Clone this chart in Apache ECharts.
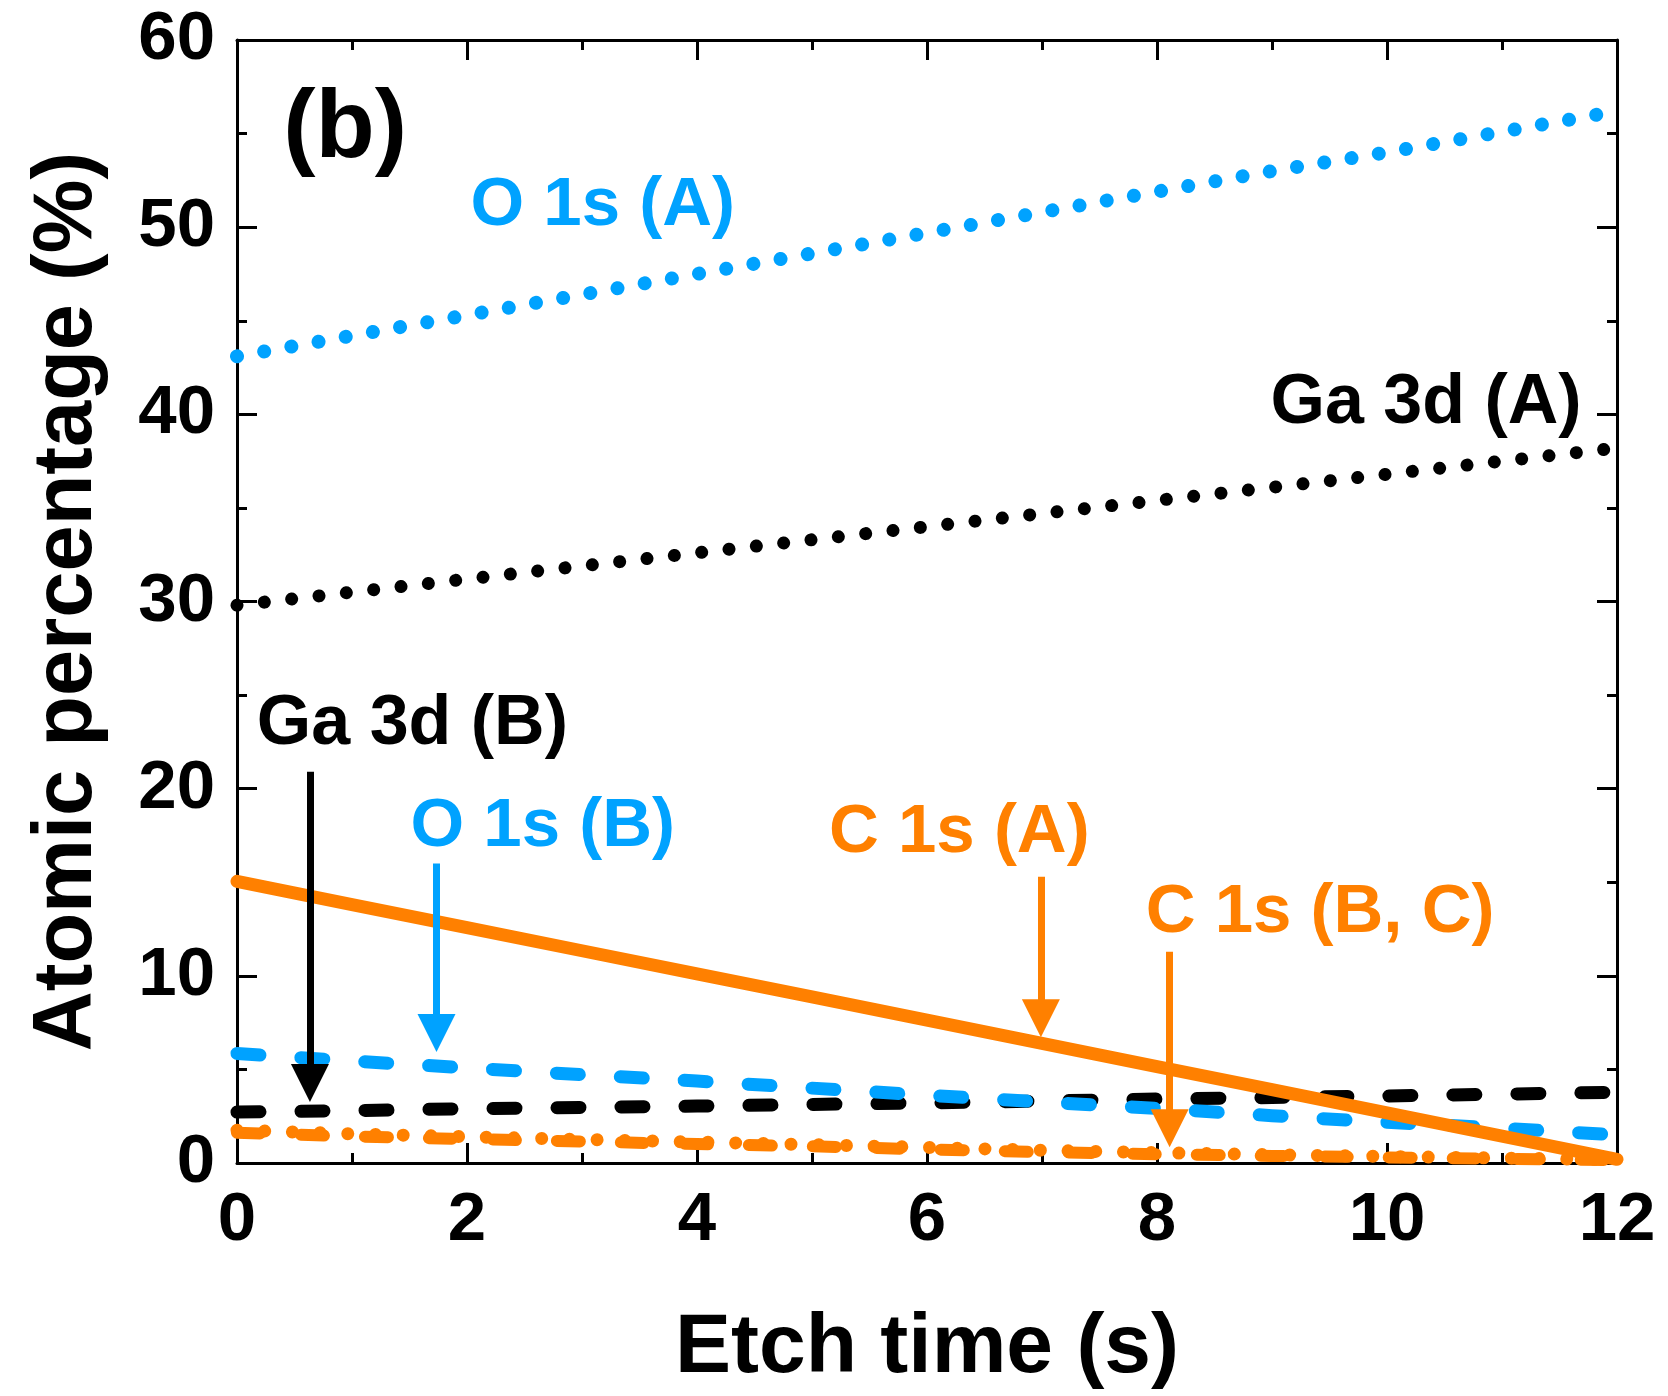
<!DOCTYPE html>
<html>
<head>
<meta charset="utf-8">
<script src="https://cdn.jsdelivr.net/npm/echarts@6/dist/echarts.min.js"></script>
<style>
html,body{margin:0;padding:0;background:#fff;}
#chart{width:1668px;height:1396px;}
</style>
</head>
<body>
<div id="chart"></div>
<script>
// ---- data ----
var etchTime = [0,1,2,3,4,5,6,7,8,9,10,11,12];
var o1sA  = [43.1, 44.2, 45.3, 46.4, 47.5, 48.6, 49.7, 50.8, 51.9, 53.0, 54.0, 55.1, 56.2];
var ga3dA = [29.8, 30.5, 31.2, 31.9, 32.6, 33.3, 34.0, 34.7, 35.4, 36.1, 36.8, 37.5, 38.2];
var c1sA  = [15.05, 13.81, 12.58, 11.34, 10.1, 8.87, 7.63, 6.39, 5.15, 3.92, 2.68, 1.44, 0.2];
var o1sB  = [5.85, 5.45, 5.08, 4.72, 4.38, 4.0, 3.62, 3.26, 2.92, 2.53, 2.17, 1.86, 1.5];
var ga3dB = [2.72, 2.8, 2.9, 2.97, 3.04, 3.13, 3.21, 3.31, 3.42, 3.5, 3.58, 3.68, 3.78];
var c1sB  = [1.62, 1.42, 1.28, 1.15, 1.01, 0.89, 0.73, 0.58, 0.47, 0.38, 0.3, 0.22, 0.15];
var c1sC  = [1.75, 1.56, 1.40, 1.26, 1.12, 0.98, 0.83, 0.68, 0.55, 0.44, 0.35, 0.26, 0.18];

var xTicks = {min: 0, max: 12, interval: 2};
var yTicks = {min: 0, max: 60, interval: 10};

// annotation labels (text, x, y in data units, colour key)
var labelTexts = ['(b)', 'O 1s (A)', 'Ga 3d (A)', 'Ga 3d (B)', 'O 1s (B)', 'C 1s (A)', 'C 1s (B, C)'];
var labelX     = [0.94, 3.18, 10.34, 1.525, 2.659, 6.281, 9.418];
var labelY     = [55.2, 51.12, 40.55, 23.42, 17.98, 17.65, 13.35];
var labelColor = ['black', 'blue', 'black', 'black', 'blue', 'orange', 'orange'];
var labelSize  = [97, 69, 70, 70, 69, 69, 69];

// arrows: x, start y, end y (data units), colour key
var arrowX      = [0.634, 1.735, 6.99, 8.11];
var arrowStartY = [20.9, 16.0, 15.3, 11.29];
var arrowEndY   = [4.27, 6.94, 7.74, 1.86];
var arrowColor  = ['black', 'blue', 'orange', 'orange'];

// ---- styling ----
var COLORS = {black: '#000000', blue: '#00A2FF', orange: '#FF8000'};
var FONT = "'Liberation Sans', Arial, Helvetica, sans-serif";

function pairs(ys) { return etchTime.map(function (x, i) { return [x, ys[i]]; }); }

function axisCommon(showLabel) {
  return {
    type: 'value',
    axisLine: {show: true, onZero: false, lineStyle: {color: '#000', width: 3}},
    axisTick: {show: true, inside: true, length: 20, lineStyle: {color: '#000', width: 3}},
    minorTick: {show: true, splitNumber: 2, length: 10, lineStyle: {color: '#000', width: 3}},
    splitLine: {show: false},
    minorSplitLine: {show: false},
    axisLabel: {show: showLabel, fontSize: 69, fontWeight: 'bold', color: '#000', fontFamily: FONT}
  };
}

var xBottom = Object.assign(axisCommon(true), xTicks, {
  position: 'bottom', name: 'Etch time (s)', nameLocation: 'middle', nameGap: 144,
  nameTextStyle: {fontSize: 84, fontWeight: 'bold', color: '#000', fontFamily: FONT}
});
xBottom.axisLabel.margin = 23;
var xTop = Object.assign(axisCommon(false), xTicks, {position: 'top'});

var yLeft = Object.assign(axisCommon(true), yTicks, {
  position: 'left', name: 'Atomic percentage (%)', nameLocation: 'middle', nameGap: 127,
  nameTextStyle: {fontSize: 83, fontWeight: 'bold', color: '#000', fontFamily: FONT}
});
yLeft.axisLabel.margin = 22;
var yRight = Object.assign(axisCommon(false), yTicks, {position: 'right'});

function lineSeries(name, ys, color, width, dash, z) {
  return {
    name: name, type: 'line', xAxisIndex: 0, yAxisIndex: 0,
    data: pairs(ys), showSymbol: false, symbol: 'none', smooth: false, z: z,
    lineStyle: {color: color, width: width, type: dash, cap: 'round', join: 'round'}
  };
}

var series = [
  lineSeries('O 1s (A)', o1sA, COLORS.blue, 14, [0.01, 27.6], 2),
  lineSeries('Ga 3d (A)', ga3dA, COLORS.black, 13, [0.01, 27.5], 2),
  lineSeries('C 1s (C)', c1sC, COLORS.orange, 13, [0.01, 27.7], 2),
  lineSeries('C 1s (B)', c1sB, COLORS.orange, 12, [23, 41], 2),
  lineSeries('Ga 3d (B)', ga3dB, COLORS.black, 13, [23, 41], 3),
  lineSeries('O 1s (B)', o1sB, COLORS.blue, 13, [23, 41], 4),
  lineSeries('C 1s (A)', c1sA, COLORS.orange, 13, 'solid', 5)
];

series.push({
  type: 'lines', coordinateSystem: 'cartesian2d', xAxisIndex: 0, yAxisIndex: 0, z: 6,
  symbol: ['none', 'triangle'], symbolSize: [38, 38],
  data: arrowX.map(function (x, i) {
    return {
      coords: [[x, arrowStartY[i]], [x, arrowEndY[i]]],
      lineStyle: {color: COLORS[arrowColor[i]], width: 7, opacity: 1}
    };
  }),
  lineStyle: {width: 7, opacity: 1, curveness: 0}
});

series.push({
  type: 'scatter', xAxisIndex: 0, yAxisIndex: 0, z: 7, silent: true,
  symbolSize: 1, itemStyle: {color: 'rgba(0,0,0,0)'},
  data: labelTexts.map(function (t, i) {
    return {
      name: t, value: [labelX[i], labelY[i]],
      label: {
        show: true, position: 'inside', formatter: t, fontSize: labelSize[i],
        fontWeight: 'bold', fontFamily: FONT, color: COLORS[labelColor[i]], opacity: 1,
        align: 'center', verticalAlign: 'middle'
      }
    };
  })
});

var chart = echarts.init(document.getElementById('chart'), null, {renderer: 'canvas'});
chart.setOption({
  animation: false,
  backgroundColor: '#ffffff',
  textStyle: {fontFamily: FONT},
  grid: {left: 237, right: 51, top: 40, bottom: 233},
  xAxis: [xBottom, xTop],
  yAxis: [yLeft, yRight],
  series: series
});
</script>
</body>
</html>
